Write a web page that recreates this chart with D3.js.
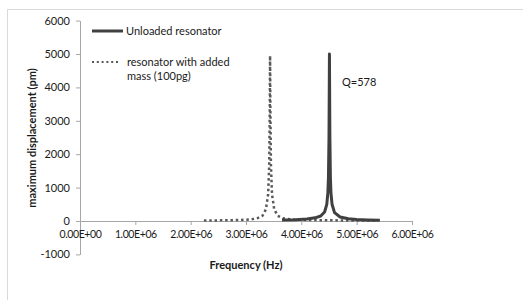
<!DOCTYPE html>
<html>
<head>
<meta charset="utf-8">
<script src="https://cdn.jsdelivr.net/npm/d3@7"></script>
<style>
  html, body { margin: 0; padding: 0; background: #fff; }
  svg { display: block; font-family: Lato, "Open Sans", sans-serif; }
</style>
</head>
<body>
<svg id="chart" width="523" height="300"></svg>
<script>
// ---- data ----
const freqUnloaded = [3.65e6, 3.9e6, 4.1e6, 4.25e6, 4.35e6, 4.42e6, 4.46e6, 4.48e6, 4.49e6, 4.5e6, 4.505e6, 4.508e6, 4.511e6, 4.516e6, 4.525e6, 4.535e6, 4.555e6, 4.6e6, 4.7e6, 4.85e6, 5.0e6, 5.2e6, 5.42e6];
const ampUnloaded  = [30, 40, 60, 95, 150, 270, 500, 850, 1300, 2500, 4000, 5000, 4000, 2500, 1300, 850, 500, 250, 120, 65, 45, 32, 25];

const freqLoaded = [2.24e6, 2.6e6, 2.9e6, 3.1e6, 3.2e6, 3.3e6, 3.36e6, 3.4e6, 3.42e6, 3.43e6, 3.435e6, 3.44e6, 3.45e6, 3.47e6, 3.51e6, 3.57e6, 3.67e6, 3.8e6, 4.0e6, 4.5e6, 5.0e6, 5.37e6];
const ampLoaded  = [15, 20, 30, 50, 80, 160, 350, 800, 1700, 3500, 4950, 3500, 1700, 800, 350, 160, 80, 50, 35, 20, 15, 12];

const xTicks = [0, 1e6, 2e6, 3e6, 4e6, 5e6, 6e6];
const xTickLabels = ["0.00E+00", "1.00E+06", "2.00E+06", "3.00E+06", "4.00E+06", "5.00E+06", "6.00E+06"];
const yTicks = [-1000, 0, 1000, 2000, 3000, 4000, 5000, 6000];
const yTickLabels = ["-1000", "0", "1000", "2000", "3000", "4000", "5000", "6000"];

const seriesNames = ["Unloaded resonator", "resonator with added", "mass (100pg)"];
const xTitle = "Frequency (Hz)";
const yTitle = "maximum displacement (pm)";
const annotation = "Q=578";

// ---- drawing ----
const svg = d3.select("#chart");
const x = d3.scaleLinear().domain([0, 6e6]).range([80, 412]);
const y = d3.scaleLinear().domain([-1000, 6000]).range([254.4, 20.6]);

const textColor = "#1a1a1a";
const axisColor = "#a6a6a6";

// outer frame (only top and left edges visible)
svg.append("path")
  .attr("d", "M7.5,300 L7.5,9.5 L523,9.5")
  .attr("fill", "none").attr("stroke", "#d9d9d9").attr("stroke-width", 1);

// y axis
const yAxis = d3.axisLeft(y).tickValues(yTicks).tickSize(4).tickSizeOuter(0).tickPadding(6)
  .tickFormat((d, i) => yTickLabels[i]);
const gy = svg.append("g").attr("transform", `translate(${x(0)},0)`).call(yAxis);
gy.select(".domain").attr("stroke", axisColor);
gy.selectAll(".tick line").attr("stroke", axisColor);
gy.selectAll(".tick text").attr("fill", textColor).attr("font-size", 11).attr("font-family", "Lato");

// x axis at y=0
const xAxis = d3.axisBottom(x).tickValues(xTicks).tickSize(4).tickSizeOuter(0).tickPadding(6)
  .tickFormat((d, i) => xTickLabels[i]);
const gx = svg.append("g").attr("transform", `translate(0,${y(0)})`).call(xAxis);
gx.select(".domain").attr("stroke", axisColor);
gx.selectAll(".tick line").attr("stroke", axisColor);
gx.selectAll(".tick text").attr("fill", textColor).attr("font-size", 10.5)
  .attr("font-family", "Lato").attr("letter-spacing", "-0.4px");

// lines
const lineGen = d3.line().x(d => x(d[0])).y(d => y(d[1]));
const loaded = freqLoaded.map((f, i) => [f, ampLoaded[i]]);
const unloaded = freqUnloaded.map((f, i) => [f, ampUnloaded[i]]);

svg.append("path").datum(loaded)
  .attr("d", lineGen).attr("fill", "none")
  .attr("stroke", "#595959").attr("stroke-width", 2.5)
  .attr("stroke-dasharray", "2.5,2.8");

svg.append("path").datum(unloaded)
  .attr("d", lineGen).attr("fill", "none")
  .attr("stroke", "#404040").attr("stroke-width", 3)
  .attr("stroke-linejoin", "round");

// annotation
svg.append("text").attr("x", 342).attr("y", 86)
  .attr("fill", textColor).attr("font-size", 11).text(annotation);

// legend
const lg = svg.append("g");
lg.append("line").attr("x1", 92).attr("x2", 123).attr("y1", 31).attr("y2", 31)
  .attr("stroke", "#404040").attr("stroke-width", 3);
lg.append("text").attr("x", 126).attr("y", 35).attr("fill", textColor).attr("font-size", 11).text(seriesNames[0]);
lg.append("line").attr("x1", 92).attr("x2", 120).attr("y1", 62).attr("y2", 62)
  .attr("stroke", "#595959").attr("stroke-width", 2).attr("stroke-dasharray", "2,2.8");
lg.append("text").attr("x", 127).attr("y", 66).attr("fill", textColor).attr("font-size", 11).text(seriesNames[1]);
lg.append("text").attr("x", 127).attr("y", 80).attr("fill", textColor).attr("font-size", 11).text(seriesNames[2]);

// axis titles
svg.append("text").attr("x", (x(0) + x(6e6)) / 2).attr("y", 269)
  .attr("text-anchor", "middle").attr("font-weight", "bold").attr("font-size", 11)
  .attr("fill", textColor).text(xTitle);
svg.append("text").attr("transform", "translate(36,138) rotate(-90)")
  .attr("text-anchor", "middle").attr("font-weight", "bold").attr("font-size", 11)
  .attr("fill", textColor).text(yTitle);
</script>
</body>
</html>
